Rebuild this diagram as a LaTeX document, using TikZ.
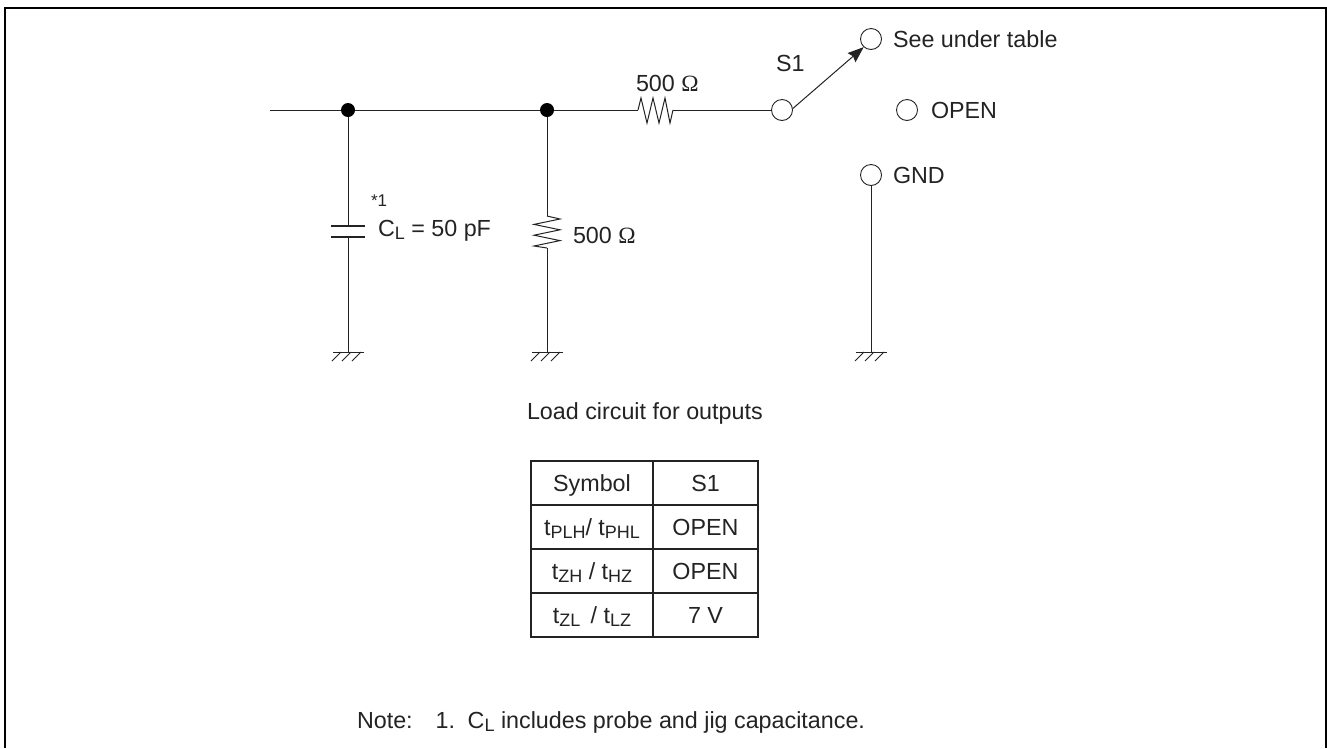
\documentclass[tikz,border=0pt]{standalone}
\usepackage{fontspec}
\setmainfont{Liberation Sans}
\newfontfamily\omegafont{Liberation Serif}
\usetikzlibrary{positioning,arrows.meta}
\definecolor{lineGray}{RGB}{35,35,35}
\newcommand{\lowtxt}[1]{\raisebox{-3.5pt}{\fontsize{18}{20}\selectfont #1}}
\newcommand{\ohm}{ {\omegafont\char"03A9}}
\tikzset{
    base/.style={font=\fontsize{23.3}{28}\selectfont, text=lineGray},
    txt/.style={base, anchor=base west, inner sep=0pt, outer sep=0pt},
    terminal/.style={circle, draw=lineGray, line width=0.9pt, fill=white, inner sep=0pt, minimum size=21pt},
    junction/.style={circle, fill=black, inner sep=0pt, minimum size=14pt},
    wire/.style={draw=lineGray, line width=1pt},
    switch/.style={wire, -{Stealth[length=16pt,width=12pt,inset=2pt]}},
    plate/.style={draw=lineGray, line width=1.4pt},
    frameline/.style={draw=black, line width=2pt},
    cell/.style={base, draw=lineGray, line width=1.3pt, inner sep=0pt, outer sep=0pt,
                 minimum height=44pt, text height=19pt, text depth=3pt, anchor=north west},
    colA/.style={cell, minimum width=122pt},
    colB/.style={cell, minimum width=105pt}
}
\begin{document}
\begin{tikzpicture}[x=1pt,y=-1pt]
  \useasboundingbox (0,0) rectangle (1327,748);
  % Frame, open at the bottom
  \draw[frameline] (5,748) -- (5,7.5) -- (1326,7.5) -- (1326,748);

  % Points of the circuit
  \coordinate (in) at (270,110);
  \node[junction] (j1) at (348,110) {};
  \node[junction] (j2) at (547,110) {};
  \coordinate (r1a) at (638,110);
  \coordinate (r1b) at (673,110);
  \node[terminal] (s1) at (782,110) {};
  \node[terminal] (seeT) at (871,39) {};
  \node[terminal] (openT) at (907,110) {};
  \node[terminal] (gndT) at (871,175) {};
  \coordinate (capTop) at (348,226);
  \coordinate (capBot) at (348,237);
  \coordinate (r2a) at (547,216);
  \coordinate (r2b) at (547,248);
  \coordinate (gndA) at (348,352);
  \coordinate (gndB) at (547,352);
  \coordinate (gndC) at (871,352);

  % Wires
  \draw[wire] (in) -- (j1) -- (j2) -- (r1a);
  \draw[wire] (r1b) -- (s1);
  \draw[wire] (j1) -- (capTop);
  \draw[wire] (capBot) -- (gndA);
  \draw[wire] (j2) -- (r2a);
  \draw[wire] (r2b) -- (gndB);
  \draw[wire] (gndT) -- (gndC);
  \draw[switch] (s1.8) -- (seeT.228);

  % Resistors
  \draw[wire] (r1a) -- ++(3,-12) -- ++(6,25) -- ++(6,-25) -- ++(6,25) -- ++(6,-25) -- ++(5,25) -- (r1b);
  \draw[wire] (r2a) -- ++(13,3) -- ++(-26,5.4) -- ++(26,5.4) -- ++(-26,5.4) -- ++(26,5.4) -- ++(-26,5.4) -- (r2b);

  % Capacitor plates
  \draw[plate] (capTop) ++(-17,0) -- ++(34,0);
  \draw[plate] (capBot) ++(-17,0) -- ++(34,0);

  % Grounds
  \foreach \g in {gndA,gndB,gndC} {
    \draw[wire] (\g) ++(-15,0) -- ++(31,0);
    \foreach \dx in {-7,3,13} {
      \draw[wire, line width=0.8pt] (\g) ++(\dx,0) -- ++(-9,9);
    }
  }

  % Labels
  \node[txt] (seeLbl) at (893,47) {See under table};
  \node[txt] (openLbl) at (931,118) {OPEN};
  \node[txt] (gndLbl) at (893,183) {GND};
  \node[txt] (s1Lbl) at (776,71) {S1};
  \node[txt] (r1Lbl) at (636,91) {500\ohm};
  \node[txt] (r2Lbl) at (573,243) {500\ohm};
  \node[txt, font=\fontsize{17}{20}\selectfont] (starLbl) at (371,206) {*1};
  \node[txt] (capLbl) at (378,236) {C\lowtxt{L} = 50 pF};
  \node[txt] (loadLbl) at (527,419) {Load circuit for outputs};
  \node[txt] (noteLbl) at (357,728) {Note:\hspace{23pt}1.\hspace{12.6pt}C\lowtxt{L} includes probe and jig capacitance.};

  % Table
  \node[colA] (a1) at (531,461) {Symbol};
  \node[colB, right=0pt of a1.north east, anchor=north west] (b1) {S1};
  \node[colA, below=0pt of a1.south west, anchor=north west] (a2) {t\lowtxt{PLH}/ t\lowtxt{PHL}};
  \node[colB, right=0pt of a2.north east, anchor=north west] (b2) {OPEN};
  \node[colA, below=0pt of a2.south west, anchor=north west] (a3) {t\lowtxt{ZH} / t\lowtxt{HZ}};
  \node[colB, right=0pt of a3.north east, anchor=north west] (b3) {OPEN};
  \node[colA, below=0pt of a3.south west, anchor=north west] (a4) {t\lowtxt{ZL}\, / t\lowtxt{LZ}};
  \node[colB, right=0pt of a4.north east, anchor=north west] (b4) {7 V};
\end{tikzpicture}
\end{document}
